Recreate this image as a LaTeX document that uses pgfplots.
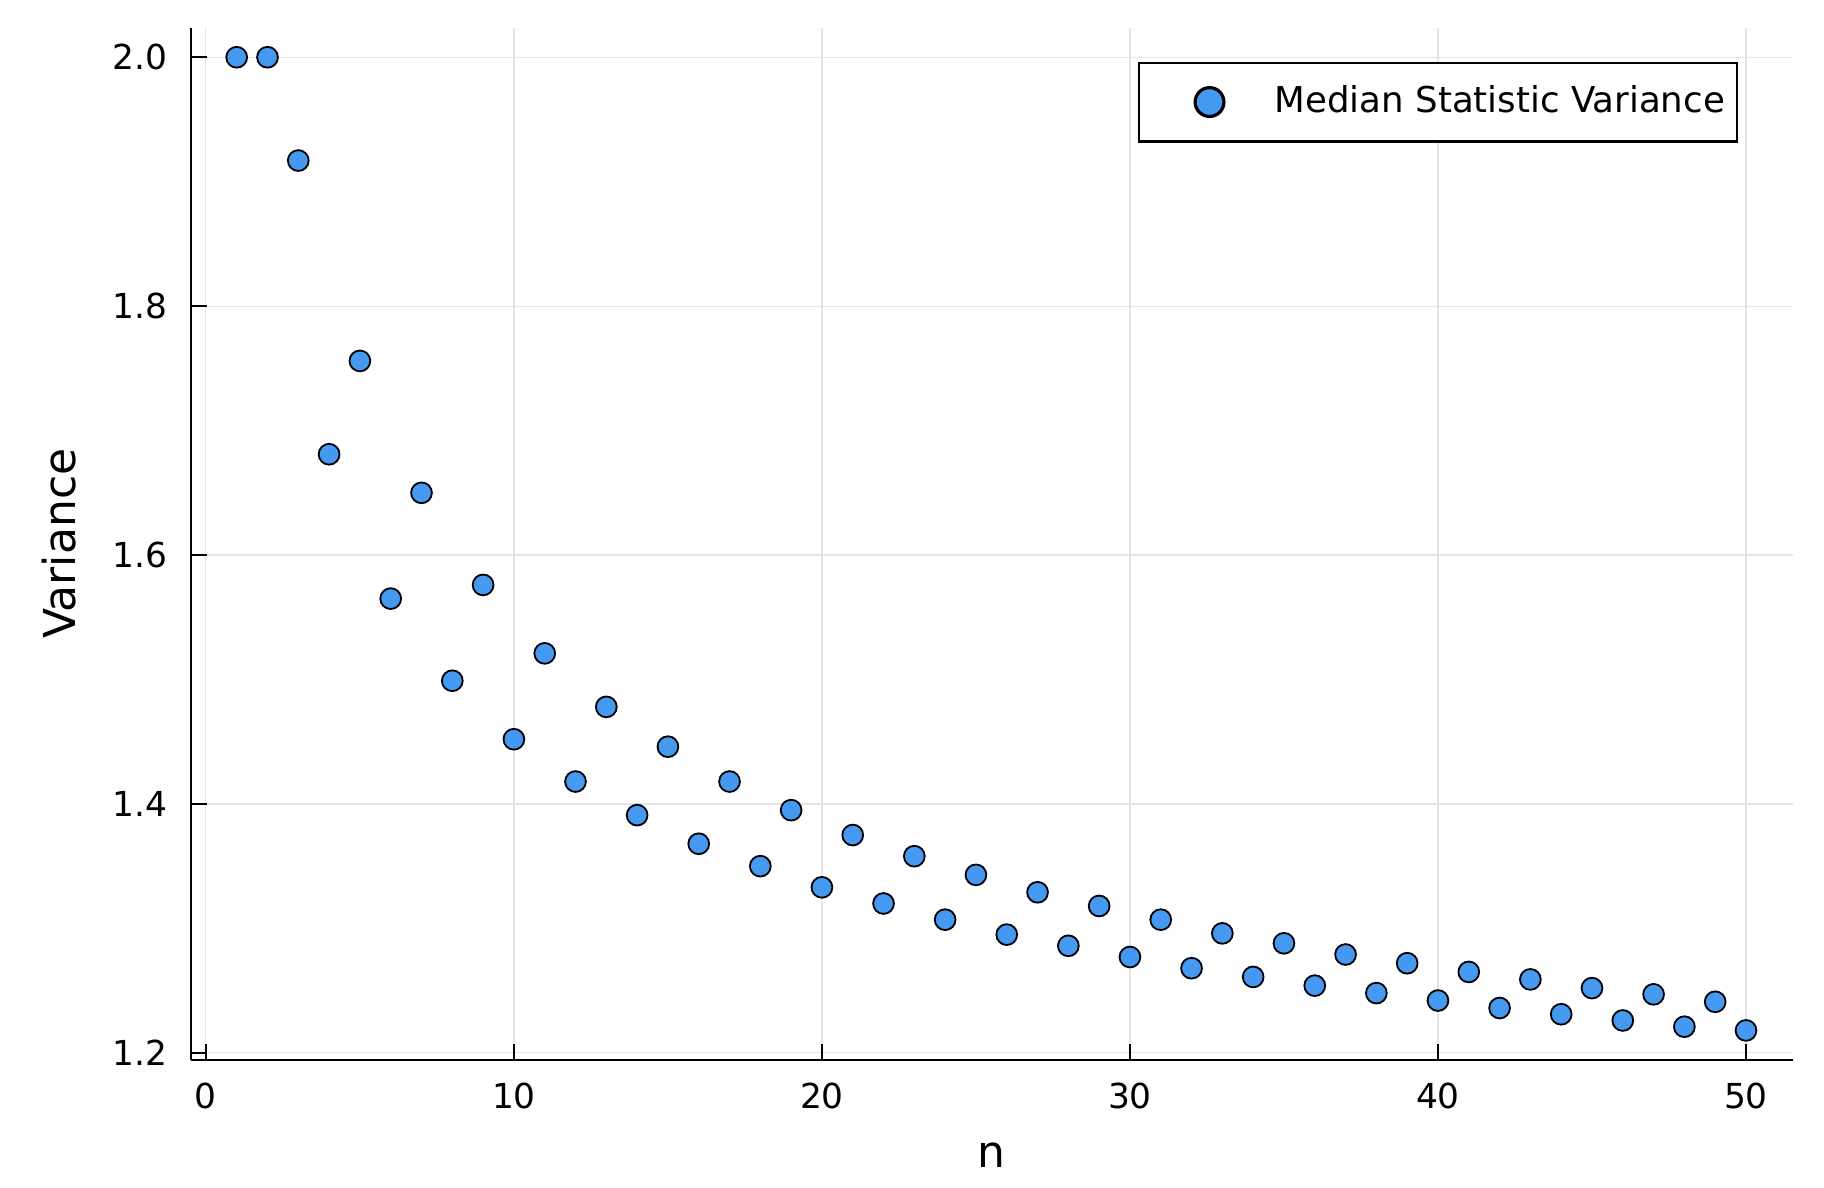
\documentclass[border=0pt]{standalone}
\usepackage{pgfplots}
\pgfplotsset{compat=1.18}
\usepackage{fontspec}
\setmainfont{DejaVu Sans}
\definecolor{jblue}{RGB}{70,153,240}
\definecolor{gridc}{RGB}{228,228,228}
\pgfplotstableread{
n v
1 2.000
2 2.000
3 1.917
4 1.681
5 1.756
6 1.565
7 1.650
8 1.499
9 1.576
10 1.452
11 1.521
12 1.418
13 1.478
14 1.391
15 1.446
16 1.368
17 1.418
18 1.350
19 1.395
20 1.333
21 1.375
22 1.320
23 1.358
24 1.307
25 1.343
26 1.295
27 1.329
28 1.286
29 1.318
30 1.277
31 1.307
32 1.268
33 1.296
34 1.261
35 1.288
36 1.254
37 1.279
38 1.248
39 1.272
40 1.242
41 1.265
42 1.236
43 1.259
44 1.231
45 1.252
46 1.226
47 1.247
48 1.221
49 1.241
50 1.218
}\datatable
\begin{document}
\begin{tikzpicture}
\path[use as bounding box] (0,0) rectangle (456pt,297pt);
\begin{axis}[
  at={(47.7pt,32.05pt)}, anchor=south west,
  scale only axis, width=400.5pt, height=258pt,
  xmin=-0.49, xmax=51.52, ymin=1.1944, ymax=2.0237,
  axis x line*=bottom, axis y line*=left,
  axis line style={line width=0.6pt, -},
  xtick={0,10,20,30,40,50},
  ytick={1.2,1.4,1.6,1.8,2.0},
  yticklabel style={/pgf/number format/fixed, /pgf/number format/fixed zerofill, /pgf/number format/precision=1, xshift=-2.3pt},
  xticklabel style={yshift=-2.3pt},
  /pgf/number format/assume math mode=true,
  tick label style={font=\fontsize{8.6}{10}\selectfont, text=black},
  tick align=inside, major tick length=4pt,
  tick style={line width=0.5pt, black},
  grid=major, major grid style={gridc, line width=0.3pt},
  xlabel={n}, ylabel={Variance},
  label style={font=\fontsize{11}{13}\selectfont},
  xlabel style={at={(axis description cs:0.5,-0.092)}, anchor=center},
  ylabel style={at={(axis description cs:-0.0824,0.5)}, anchor=center},
  legend style={at={(axis description cs:0.9658,0.9673)}, anchor=north east,
    draw=black, line width=0.6pt, font=\fontsize{8.9}{10}\selectfont,
    inner xsep=1pt, inner ysep=3.7pt, cells={anchor=west}},
  legend image code/.code={\path[draw=none, fill=none] (0pt,0pt) -- (31pt,0pt);
    \draw[fill=jblue, draw=black, line width=0.8pt] (16.7pt,0pt) circle (3.6pt);},
]
\addplot[only marks, mark=*, mark size=2.6pt, mark options={fill=jblue, draw=black, line width=0.45pt}] table[x=n,y=v] {\datatable};
\addlegendentry{Median Statistic Variance}
\end{axis}
\end{tikzpicture}
\end{document}
